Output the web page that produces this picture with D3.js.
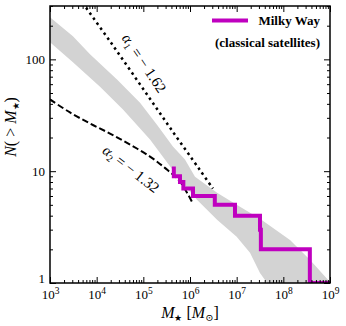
<!DOCTYPE html>
<html>
<head>
<meta charset="utf-8">
<script src="https://cdn.jsdelivr.net/npm/d3@7"></script>
<style>
  body { margin: 0; background: #fff; }
  svg { display: block; }
  .tick text { font-family: "Liberation Serif", "DejaVu Serif", serif; font-size: 13px; fill: #000; }
</style>
</head>
<body>
<script>
// Milky Way classical satellites, cumulative count N(>M*)
const mwMass = [4.5e5, 4.5e5, 6.1e5, 7.2e5, 1.16e6, 3.4e6, 9.2e6, 3.16e7, 3.3e7, 3.7e8, 1.5e9];
const mwCount = [11, 10, 9, 8, 7, 6, 5, 4, 3, 2, 1];

// grey band (upper and lower edge)
const bandUpperMass = [1e3, 3.1e3, 7.2e3, 2.73e4, 8.5e4, 1.96e5, 4.3e5, 7.8e5, 1.28e6, 3.8e6, 1.0e7, 3.16e7, 1.39e8, 3.7e8, 1e9, 1.3e9];
const bandUpperN = [238, 161, 111, 66, 41, 26, 16.6, 12.7, 8.9, 6.4, 5.0, 3.75, 2.43, 1.61, 1.02, 0.9];
const bandLowerMass = [1e3, 3.1e3, 1.18e4, 3.66e4, 1.39e5, 2.9e5, 6.1e5, 1.41e6, 3.8e6, 1.0e7, 1.93e7, 3.16e7, 4.5e7, 5.5e7];
const bandLowerN = [142, 94, 57, 35.6, 19.2, 12.7, 8.4, 5.55, 3.67, 2.59, 1.86, 1.23, 1.0, 0.9];

// alpha1 = -1.62 (dotted)
const alpha1Mass = [5.0e3, 1.93e4, 8.5e4, 3.7e5, 1.64e6, 3.1e6];
const alpha1N = [320, 145, 59.7, 24.6, 10.2, 7.0];

// alpha2 = -1.32 (dashed)
const alpha2Mass = [1e3, 2.68e3, 7.2e3, 1.93e4, 5.2e4, 1.39e5, 2.9e5, 6.1e5, 1.16e6];
const alpha2N = [43.8, 33.5, 26.7, 21.7, 17.3, 13.5, 10.7, 8.05, 5.1];

const xMajor = [1e3, 1e4, 1e5, 1e6, 1e7, 1e8, 1e9];
const yMajor = [1, 10, 100];

const W = 346, H = 326;
const margin = {top: 6, right: 16, bottom: 43, left: 50};

const svg = d3.select("body").append("svg")
    .attr("width", W)
    .attr("height", H);

const x = d3.scaleLog()
    .domain([1e3, 1e9])
    .range([margin.left, W - margin.right]);

const y = d3.scaleLog()
    .domain([1, 300])
    .range([H - margin.bottom, margin.top]);

svg.append("clipPath").attr("id", "plot")
  .append("rect")
    .attr("x", x.range()[0])
    .attr("y", y.range()[1])
    .attr("width", x.range()[1] - x.range()[0])
    .attr("height", y.range()[0] - y.range()[1]);

const g = svg.append("g").attr("clip-path", "url(#plot)");

// grey band
const band = bandUpperMass.map((m, i) => [m, bandUpperN[i]])
    .concat(bandLowerMass.map((m, i) => [m, bandLowerN[i]]).reverse());

g.append("path")
    .datum(band)
    .attr("d", d3.line().x(d => x(d[0])).y(d => y(d[1])).curve(d3.curveLinearClosed))
    .attr("fill", "#d3d3d3")
    .attr("stroke", "none");

const line = d3.line()
    .x(d => x(d[0]))
    .y(d => y(d[1]))
    .curve(d3.curveCatmullRom);

g.append("path")
    .datum(alpha1Mass.map((m, i) => [m, alpha1N[i]]))
    .attr("d", line)
    .attr("fill", "none")
    .attr("stroke", "#000")
    .attr("stroke-width", 2.5)
    .attr("stroke-dasharray", "2.5,3.6");

g.append("path")
    .datum(alpha2Mass.map((m, i) => [m, alpha2N[i]]))
    .attr("d", line)
    .attr("fill", "none")
    .attr("stroke", "#000")
    .attr("stroke-width", 2)
    .attr("stroke-dasharray", "6.5,3");

// Milky Way step line
g.append("path")
    .datum(mwMass.map((m, i) => [m, mwCount[i]]))
    .attr("d", d3.line().x(d => x(d[0])).y(d => y(d[1])).curve(d3.curveStepBefore))
    .attr("fill", "none")
    .attr("stroke", "#bf00bf")
    .attr("stroke-width", 4);

// axes with inward ticks
function minorTicks(lo, hi) {
    const out = [];
    for (let e = lo; e < hi; e++) {
        for (let k = 2; k <= 9; k++) out.push(k * Math.pow(10, e));
    }
    return out;
}
const xMinor = minorTicks(3, 9);
const yMinor = minorTicks(0, 2).concat([200, 300]);

const x0 = x.range()[0], x1 = x.range()[1];
const y0 = y.range()[0], y1 = y.range()[1];

function styleAxis(sel) {
    sel.select(".domain").remove();
    sel.selectAll(".tick line").attr("stroke", "#000").attr("stroke-width", 1);
}

// bottom
const bottom = svg.append("g")
    .attr("transform", "translate(0," + y0 + ")")
    .call(d3.axisBottom(x).tickValues(xMajor).tickSize(-6).tickFormat(""));
styleAxis(bottom);
bottom.selectAll(".tick").append("text")
    .attr("y", 16)
    .attr("text-anchor", "middle")
    .each(function(d) {
        const t = d3.select(this);
        t.append("tspan").text("10");
        t.append("tspan").attr("dy", -5).attr("font-size", "9.5px").text(String(Math.round(Math.log10(d))));
    });

svg.append("g")
    .attr("transform", "translate(0," + y0 + ")")
    .call(d3.axisBottom(x).tickValues(xMinor).tickSize(-3).tickFormat(""))
    .call(styleAxis);

// top
svg.append("g")
    .attr("transform", "translate(0," + y1 + ")")
    .call(d3.axisTop(x).tickValues(xMajor).tickSize(-6).tickFormat(""))
    .call(styleAxis);
svg.append("g")
    .attr("transform", "translate(0," + y1 + ")")
    .call(d3.axisTop(x).tickValues(xMinor).tickSize(-3).tickFormat(""))
    .call(styleAxis);

// left
const left = svg.append("g")
    .attr("transform", "translate(" + x0 + ",0)")
    .call(d3.axisLeft(y).tickValues(yMajor).tickSize(-6).tickPadding(5).tickFormat(d3.format("d")));
styleAxis(left);
left.selectAll(".tick text").filter(d => d === 1).attr("dy", "-0.05em");
svg.append("g")
    .attr("transform", "translate(" + x0 + ",0)")
    .call(d3.axisLeft(y).tickValues(yMinor).tickSize(-3).tickFormat(""))
    .call(styleAxis);

// right
svg.append("g")
    .attr("transform", "translate(" + x1 + ",0)")
    .call(d3.axisRight(y).tickValues(yMajor).tickSize(-6).tickFormat(""))
    .call(styleAxis);
svg.append("g")
    .attr("transform", "translate(" + x1 + ",0)")
    .call(d3.axisRight(y).tickValues(yMinor).tickSize(-3).tickFormat(""))
    .call(styleAxis);

// frame
svg.append("rect")
    .attr("x", x0).attr("y", y1)
    .attr("width", x1 - x0).attr("height", y0 - y1)
    .attr("fill", "none")
    .attr("stroke", "#000")
    .attr("stroke-width", 1.5);

// axis labels
const serif = "'Liberation Serif', 'DejaVu Serif', serif";

const xl = svg.append("text")
    .attr("x", (x0 + x1) / 2)
    .attr("y", 318)
    .attr("text-anchor", "middle")
    .attr("font-family", serif)
    .attr("font-size", "16px");
xl.append("tspan").attr("font-style", "italic").text("M");
xl.append("tspan").attr("font-size", "9px").attr("dy", 3).text("★");
xl.append("tspan").attr("dy", -3).text(" [");
xl.append("tspan").attr("font-style", "italic").text("M");
xl.append("tspan").attr("font-size", "10px").attr("dy", 3).text("⊙");
xl.append("tspan").attr("dy", -3).text("]");

const yl = svg.append("text")
    .attr("transform", "translate(16,127) rotate(-90)")
    .attr("text-anchor", "middle")
    .attr("font-family", serif)
    .attr("font-size", "16px");
yl.append("tspan").attr("font-style", "italic").text("N");
yl.append("tspan").text("( > ");
yl.append("tspan").attr("font-style", "italic").text("M");
yl.append("tspan").attr("font-size", "9px").attr("dy", 3).text("★");
yl.append("tspan").attr("dy", -3).text(")");

// slope annotations
function slopeLabel(cx, cy, angle, sub, val) {
    const t = svg.append("text")
        .attr("transform", "translate(" + cx + "," + cy + ") rotate(" + angle + ")")
        .attr("text-anchor", "middle")
        .attr("font-family", serif)
        .attr("font-size", "15px");
    t.append("tspan").attr("font-style", "italic").text("α");
    t.append("tspan").attr("font-size", "10px").attr("dy", 3).text(sub);
    t.append("tspan").attr("dy", -3).text(" = − " + val);
}
slopeLabel(140, 66, 56, "1", "1.62");
slopeLabel(128, 173, 38, "2", "1.32");

// legend
svg.append("line")
    .attr("x1", 212).attr("x2", 248)
    .attr("y1", 20.5).attr("y2", 20.5)
    .attr("stroke", "#bf00bf")
    .attr("stroke-width", 4);

svg.append("text")
    .attr("x", 320).attr("y", 25)
    .attr("text-anchor", "end")
    .attr("font-family", serif)
    .attr("font-weight", "bold")
    .attr("font-size", "13px")
    .text("Milky Way");

svg.append("text")
    .attr("x", 320).attr("y", 47)
    .attr("text-anchor", "end")
    .attr("font-family", serif)
    .attr("font-weight", "bold")
    .attr("font-size", "13px")
    .text("(classical satellites)");
</script>
</body>
</html>
